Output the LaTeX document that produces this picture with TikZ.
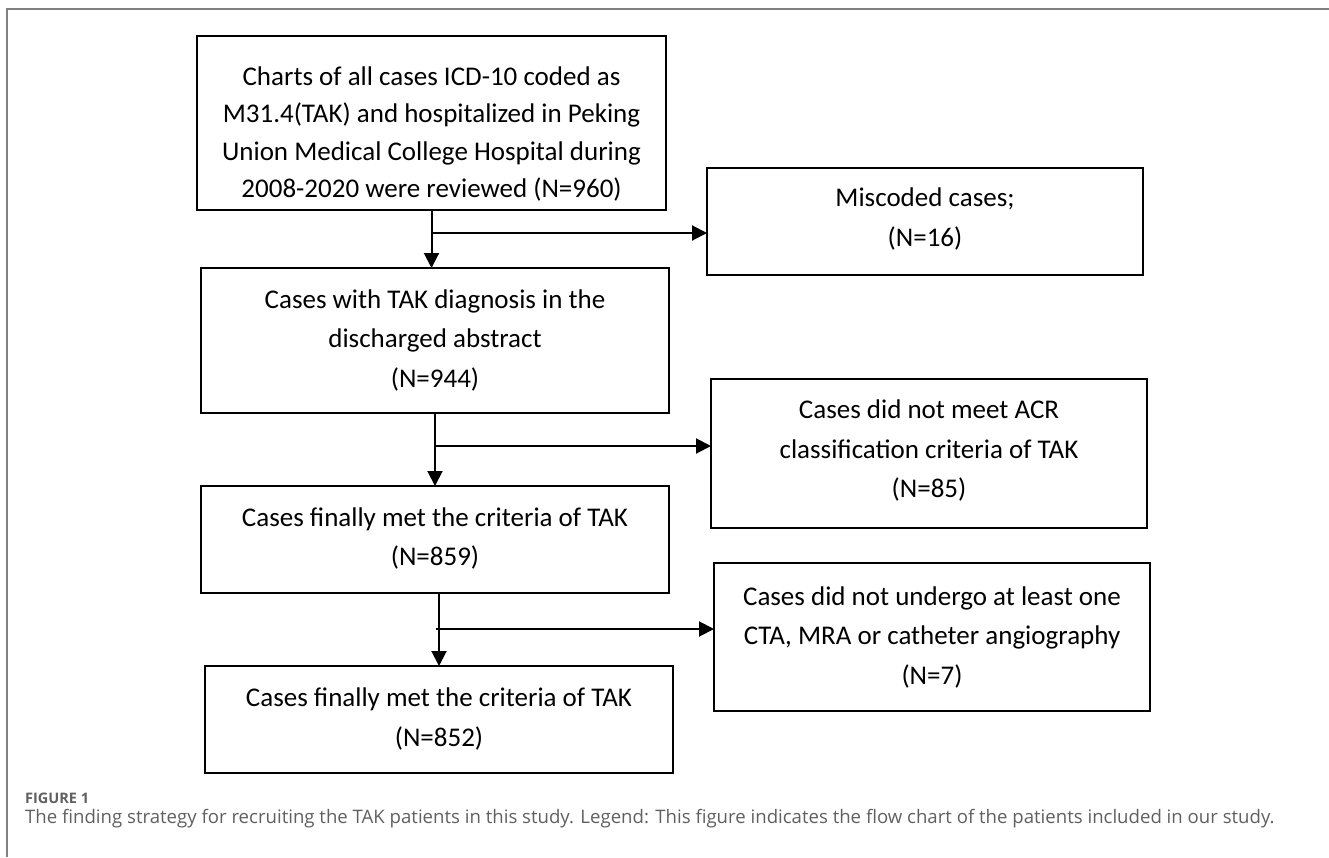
\documentclass[tikz,border=0pt]{standalone}
\usepackage{fontspec}
\setmainfont{Carlito}
\newfontfamily\capfont{Open Sans}
\usetikzlibrary{arrows.meta,calc}
\definecolor{framegray}{HTML}{808080}
\definecolor{capgray}{HTML}{606060}
\begin{document}
\begin{tikzpicture}[x=1pt,y=-1pt,
  box/.style={draw=black, line width=2.4pt, inner sep=0pt, outer sep=0pt},
  txt/.style={align=center, inner sep=0pt, font=\fontsize{27}{39.5}\selectfont},
  flow/.style={line width=2pt, -{Triangle[length=15pt,width=15pt]}},
  capsmall/.style={anchor=base west, inner sep=0pt, text=capgray, font=\capfont\bfseries\fontsize{14.5}{16}\selectfont},
  capline/.style={anchor=base west, inner sep=0pt, text=capgray, font=\capfont\fontsize{18.6}{22}\selectfont}
  ]
\useasboundingbox (0,0) rectangle (1329,857);
\fill[white] (0,0) rectangle (1329,857);
\draw[framegray, line width=1.5pt] (7,857) -- (7,9) -- (1329,9);

% boxes
\node[box, minimum width=469pt, minimum height=174pt] (b1) at (431.5,123) {};
\node[box, minimum width=436pt, minimum height=107pt] (b2) at (925,221.5) {};
\node[box, minimum width=468pt, minimum height=145pt] (b3) at (435,340.5) {};
\node[box, minimum width=436pt, minimum height=149pt] (b4) at (929,453.5) {};
\node[box, minimum width=468pt, minimum height=107pt] (b5) at (435,539.5) {};
\node[box, minimum width=436pt, minimum height=148pt] (b6) at (932,637) {};
\node[box, minimum width=468pt, minimum height=107pt] (b7) at (439,719.5) {};

% texts
\node[txt, font=\fontsize{27}{37.5}\selectfont] (t1) at (431.5,134) {Charts of all cases ICD-10 coded as\\M31.4(TAK) and hospitalized in Peking\\Union Medical College Hospital during\\2008-2020 were reviewed (N=960)};
\node[txt] (t2) at (925,219) {Miscoded cases;\\(N=16)};
\node[txt] (t3) at (435,340) {Cases with TAK diagnosis in the\\discharged abstract\\(N=944)};
\node[txt] (t4) at (929,450.5) {Cases did not meet ACR\\classification criteria of TAK\\(N=85)};
\node[txt] (t5) at (435,538.5) {Cases finally met the criteria of TAK\\(N=859)};
\node[txt] (t6) at (932,637) {Cases did not undergo at least one\\CTA, MRA or catheter angiography\\(N=7)};
\node[txt] (t7) at (439,719) {Cases finally met the criteria of TAK\\(N=852)};

% junctions
\coordinate (j1) at ($(b1.south)+(0,23)$);
\coordinate (j2) at ($(b3.south)+(0,33)$);
\coordinate (j3) at ($(b5.south)+(1,36)$);

% connectors
\draw[flow] (b1.south) -- (b1.south |- b3.north);
\draw[flow] (j1) -- (j1 -| b2.west);
\draw[flow] (b3.south) -- (b3.south |- b5.north);
\draw[flow] (j2) -- (j2 -| b4.west);
\draw[flow] (b7.north |- b5.south) -- (b7.north);
\draw[flow] (j3) -- (j3 -| b6.west);

% caption
\node[capsmall] (fig) at (25,803) {FIGURE 1};
\node[capline] (cap) at (25,823) {The finding strategy for recruiting the TAK patients in this study. Legend: This figure indicates the flow chart of the patients included in our study.};
\end{tikzpicture}
\end{document}
